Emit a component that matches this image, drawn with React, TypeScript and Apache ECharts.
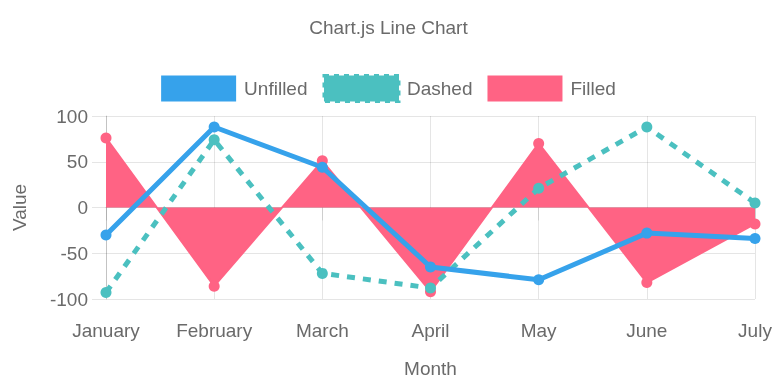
import React, { useEffect, useRef } from "react";
import * as echarts from "echarts";

const months = ["January", "February", "March", "April", "May", "June", "July"];
const unfilled = [-30, 88, 44, -65, -79, -28, -34];
const dashed = [-93, 74, -72, -88, 21, 88, 5];
const filled = [76, -86, 51, -92, 70, -82, -18];

const FONT = "Liberation Sans";
const TXT = "#6a6a6a";
const GRID = "rgba(0,0,0,0.1)";
const FS = 19;

export default function App() {
  const ref = useRef<HTMLDivElement>(null);
  useEffect(() => {
    if (!ref.current) return;
    const chart = echarts.init(ref.current, undefined, { renderer: "svg" });
    chart.setOption({
      animation: false,
      textStyle: { fontFamily: FONT, color: TXT },
      title: {
        text: "Chart.js Line Chart",
        left: "center",
        top: 18,
        padding: 0,
        textStyle: { fontFamily: FONT, fontSize: FS, fontWeight: "normal", color: TXT },
      },
      legend: {
        top: 74,
        left: "center",
        padding: 0,
        itemWidth: 75,
        itemHeight: 26,
        itemGap: 15,
        icon: "rect",
        textStyle: { fontFamily: FONT, fontSize: FS, color: TXT, padding: [0, 0, 0, 3] },
        itemStyle: { borderWidth: 0 },
        data: [
          { name: "Unfilled", itemStyle: { color: "#36a2eb", borderWidth: 0 } },
          {
            name: "Dashed",
            itemStyle: { color: "#4bc0c0", borderColor: "#4bc0c0", borderWidth: 3, borderType: [5, 5] },
          },
          { name: "Filled", itemStyle: { color: "#ff6384", borderWidth: 0 } },
        ],
      },
      grid: {
        left: 106,
        right: 22,
        top: 116,
        bottom: 89,
        containLabel: false,
        outerBoundsMode: "none",
      },
      xAxis: {
        type: "category",
        data: months,
        boundaryGap: false,
        name: "Month",
        nameLocation: "middle",
        nameGap: 60,
        nameMoveOverlap: false,
        nameTextStyle: { fontFamily: FONT, fontSize: FS, color: TXT },
        axisLine: { lineStyle: { color: "rgba(0,0,0,0.15)" } },
        axisTick: { show: true, length: 13, lineStyle: { color: GRID } },
        axisLabel: { fontFamily: FONT, fontSize: FS, color: TXT, margin: 22 },
        splitLine: { show: true, lineStyle: { color: GRID } },
      },
      yAxis: {
        type: "value",
        min: -100,
        max: 100,
        interval: 50,
        name: "Value",
        nameLocation: "middle",
        nameGap: 77,
        nameMoveOverlap: false,
        nameTextStyle: { fontFamily: FONT, fontSize: FS, color: TXT },
        axisLine: { show: true, lineStyle: { color: "rgba(0,0,0,0.15)" } },
        axisTick: { show: true, length: 14, lineStyle: { color: GRID } },
        axisLabel: { fontFamily: FONT, fontSize: FS, color: TXT, margin: 18 },
        splitLine: { show: true, lineStyle: { color: GRID } },
      },
      series: [
        {
          name: "Filled",
          type: "line",
          data: filled,
          clip: false,
          symbol: "circle",
          symbolSize: 11,
          itemStyle: { color: "#ff6384" },
          lineStyle: { color: "#ff6384", width: 2 },
          areaStyle: { color: "#ff6384", opacity: 1, origin: 0 },
        },
        {
          name: "Dashed",
          type: "line",
          data: dashed,
          clip: false,
          symbol: "circle",
          symbolSize: 11,
          itemStyle: { color: "#4bc0c0" },
          lineStyle: { color: "#4bc0c0", width: 5, type: [8, 8] },
        },
        {
          name: "Unfilled",
          type: "line",
          data: unfilled,
          clip: false,
          symbol: "circle",
          symbolSize: 11,
          itemStyle: { color: "#36a2eb" },
          lineStyle: { color: "#36a2eb", width: 5 },
        },
      ],
    });
    return () => chart.dispose();
  }, []);
  return (
    <div
      ref={ref}
      style={{ position: "fixed", left: 0, top: 0, width: 777, height: 388 }}
    />
  );
}
